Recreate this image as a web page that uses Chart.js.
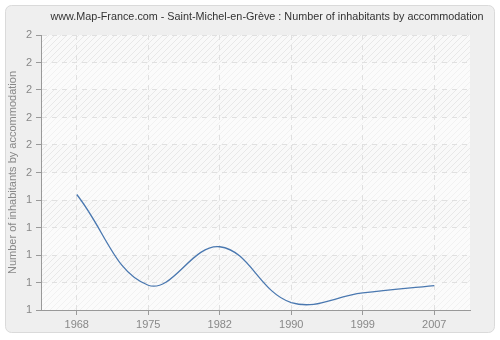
<!doctype html>
<html>

<head>
	<title>Number of inhabitants by accommodation</title>
	<script src="https://cdn.jsdelivr.net/npm/chart.js@4/dist/chart.umd.min.js"></script>
	<style>
	body {
		margin: 0;
		background: #ffffff;
	}
	canvas {
		display: block;
	}
	</style>
</head>

<body>
	<canvas id="chart" width="500" height="340"></canvas>
	<script>
		var titleText = 'www.Map-France.com - Saint-Michel-en-Grève : Number of inhabitants by accommodation';
		var yTitle = 'Number of inhabitants by accommodation';
		var years = ['1968', '1975', '1982', '1990', '1999', '2007'];
		var inhabitants = [1.42, 1.09, 1.23, 1.027, 1.062, 1.089];
		var yMin = 1;
		var yMax = 2;
		var yStep = 0.1;

		function makeHatch() {
			var c = document.createElement('canvas');
			c.width = 6;
			c.height = 6;
			var g = c.getContext('2d');
			g.fillStyle = '#f9f9f9';
			g.fillRect(0, 0, 6, 6);
			g.strokeStyle = '#e8e8e8';
			g.lineWidth = 1;
			g.beginPath();
			g.moveTo(-1, 7);
			g.lineTo(7, -1);
			g.moveTo(-1, 1);
			g.lineTo(1, -1);
			g.moveTo(5, 7);
			g.lineTo(7, 5);
			g.stroke();
			return c;
		}

		var backgroundPlugin = {
			id: 'panel',
			beforeDraw: function(chart) {
				var ctx = chart.ctx;
				var a = chart.chartArea;
				ctx.save();
				ctx.fillStyle = '#ffffff';
				ctx.fillRect(0, 0, chart.width, chart.height);
				ctx.beginPath();
				ctx.roundRect(5.5, 5.5, 489, 327, 6);
				ctx.fillStyle = '#efefef';
				ctx.fill();
				ctx.strokeStyle = '#dadada';
				ctx.lineWidth = 1;
				ctx.stroke();
				ctx.fillStyle = ctx.createPattern(makeHatch(), 'repeat');
				ctx.fillRect(a.left, a.top, a.right - a.left, a.bottom - a.top);
				// lighter alternate bands
				var y = chart.scales.y;
				ctx.fillStyle = 'rgba(255,255,255,0.4)';
				for (var v = yMin; v < yMax - 0.01; v += 2 * yStep) {
					var y1 = y.getPixelForValue(v);
					var y2 = y.getPixelForValue(v + yStep);
					ctx.fillRect(a.left, y2, a.right - a.left, y1 - y2);
				}
				ctx.fillStyle = '#333333';
				ctx.font = '10.8px "Liberation Sans", Arial, sans-serif';
				ctx.textAlign = 'center';
				ctx.textBaseline = 'middle';
				ctx.fillText(titleText, 267, 17);
				ctx.restore();
			}
		};

		window.onload = function() {
			var ctx = document.getElementById('chart').getContext('2d');
			new Chart(ctx, {
				type: 'line',
				data: {
					labels: years,
					datasets: [{
						data: inhabitants,
						borderColor: '#4a78b0',
						borderWidth: 1.3,
						pointRadius: 0,
						tension: 0.4,
						fill: false
					}]
				},
				options: {
					responsive: false,
					animation: false,
					layout: {
						padding: { top: 35, right: 30, bottom: 0, left: 0 }
					},
					plugins: {
						legend: { display: false },
						title: { display: false },
						tooltip: { enabled: false }
					},
					scales: {
						x: {
							offset: true,
							afterFit: function(scale) { scale.height = 30; },
							grid: {
								offset: false,
								color: '#e0e0e0',
								tickColor: '#999999',
								tickLength: 5,
								tickBorderDash: []
							},
							border: { color: '#999999', dash: [5, 5] },
							ticks: {
								color: '#888888',
								padding: 3,
								font: { family: '"Liberation Sans", Arial, sans-serif', size: 11 }
							}
						},
						y: {
							min: yMin,
							max: yMax,
							afterFit: function(scale) { scale.width = 41; },
							grid: {
								color: '#e0e0e0',
								tickColor: '#999999',
								tickLength: 5,
								tickBorderDash: []
							},
							border: { color: '#999999', dash: [5, 5] },
							ticks: {
								stepSize: yStep,
								color: '#888888',
								padding: 4,
								font: { family: '"Liberation Sans", Arial, sans-serif', size: 11 },
								callback: function(value) {
									return Math.round(Math.round(value * 10) / 10);
								}
							},
							title: {
								display: true,
								text: yTitle,
								color: '#888888',
								padding: { top: 6, bottom: 0 },
								font: { family: '"Liberation Sans", Arial, sans-serif', size: 11 }
							}
						}
					}
				},
				plugins: [backgroundPlugin]
			});
		};
	</script>
</body>

</html>
